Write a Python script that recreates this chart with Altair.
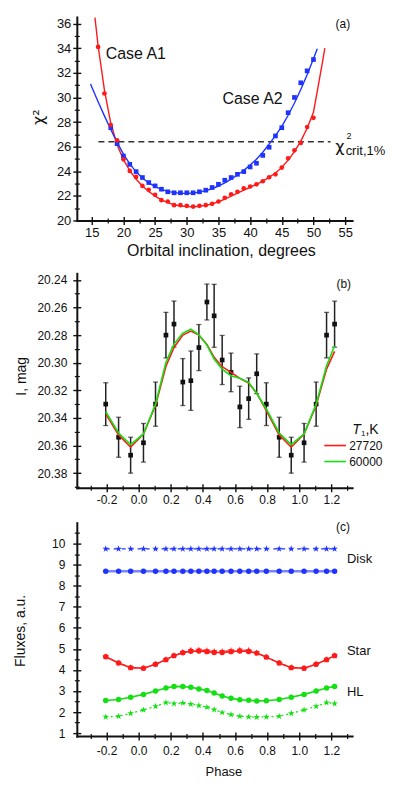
import altair as alt
import pandas as pd

FONT = "Liberation Sans"
RED = "#ff1a1a"
BLUE = "#1f33ff"
GREEN = "#12e012"
INK = "#111111"
STAR = ("M0,-1L0.2245,-0.309L0.951,-0.309L0.363,0.118L0.588,0.809L0,0.382"
        "L-0.588,0.809L-0.363,0.118L-0.951,-0.309L-0.2245,-0.309Z")

# ---------------- panel (a) ----------------
INCL_A1 = list(range(16, 51))
CHI_A1 = [34.11, 30.32, 27.76, 26.51, 24.97, 24.03, 23.54, 22.81, 22.49, 22.08,
          21.65, 21.54, 21.24, 21.24, 21.19, 21.13, 21.19, 21.24, 21.35, 21.54,
          21.84, 22.13, 22.33, 22.62, 22.76, 22.94, 23.19, 23.51, 23.75, 24.30,
          25.05, 25.70, 26.30, 27.60, 28.34]
INCL_A2 = list(range(18, 51))
CHI_A2 = [27.54, 26.24, 25.24, 24.56, 23.97, 23.49, 23.08, 22.81, 22.54, 22.33,
          22.25, 22.25, 22.25, 22.25, 22.33, 22.46, 22.68, 22.94, 23.27, 23.49,
          23.75, 23.97, 24.35, 24.65, 25.29, 25.95, 26.87, 27.54, 28.76, 30.00,
          31.19, 32.16, 33.08]
FIT_A1_X = [15.5, 16, 17, 18, 19, 20, 21, 22, 23, 24, 25, 26, 27, 28, 29, 30, 31,
            32, 33, 34, 35, 36, 37, 38, 39, 40, 41, 42, 43, 44, 45, 46, 47, 48,
            49, 50, 50.6, 51.4, 51.8]
FIT_A1_Y = [36.5, 34.2, 30.6, 27.9, 26.15, 24.95, 24.05, 23.35, 22.8, 22.35,
            21.98, 21.68, 21.45, 21.28, 21.18, 21.13, 21.12, 21.15, 21.23, 21.35,
            21.52, 21.74, 21.98, 22.22, 22.46, 22.7, 22.94, 23.2, 23.5, 23.86,
            24.3, 24.9, 25.6, 26.45, 27.5, 28.8, 30.5, 32.8, 34.0]
FIT_A2_X = [14.8, 16, 17, 18, 19, 20, 21, 22, 23, 24, 25, 26, 27, 28, 29, 30, 31,
            32, 33, 34, 35, 36, 37, 38, 39, 40, 41, 42, 43, 44, 45, 46, 47, 48,
            49, 50, 50.6]
FIT_A2_Y = [31.1, 29.65, 28.5, 27.4, 26.35, 25.4, 24.6, 23.95, 23.45, 23.05,
            22.75, 22.52, 22.36, 22.26, 22.21, 22.2, 22.23, 22.3, 22.42, 22.58,
            22.8, 23.06, 23.36, 23.7, 24.08, 24.5, 24.98, 25.55, 26.2, 26.9,
            27.65, 28.55, 29.55, 30.65, 31.85, 33.15, 33.95]
CHI_CRIT = 26.4
CRIT_X = [16.05, 52.7]

X_A_DOMAIN = [12.64, 56.1]
Y_A_DOMAIN = [20.0, 36.54]
X_A_TICKS = [15, 20, 25, 30, 35, 40, 45, 50, 55]
X_A_MINOR = [17.5, 22.5, 27.5, 32.5, 37.5, 42.5, 47.5, 52.5]
Y_A_TICKS = [20, 22, 24, 26, 28, 30, 32, 34, 36]
Y_A_MINOR = [21, 23, 25, 27, 29, 31, 33, 35]

A_TEXT_BIG = ["Case A1", "Case A2"]
A_TEXT_BIG_X = [17.2, 35.63]
A_TEXT_BIG_Y = [33.54, 29.89]

# ---------------- panel (b) ----------------
PHASE = [-0.205, -0.125, -0.05, 0.03, 0.105, 0.17, 0.22, 0.275, 0.325, 0.375,
         0.425, 0.47, 0.52, 0.575, 0.63, 0.685, 0.735, 0.795, 0.875, 0.95,
         1.03, 1.105, 1.17, 1.22]
MAG = [20.330, 20.354, 20.367, 20.358, 20.330, 20.280, 20.272, 20.314, 20.313,
       20.289, 20.256, 20.266, 20.298, 20.307, 20.332, 20.326, 20.308, 20.330,
       20.354, 20.367, 20.358, 20.330, 20.280, 20.272]
MAG_ERR = [0.0155, 0.0145, 0.013, 0.014, 0.016, 0.0165, 0.0167, 0.017, 0.0215,
           0.0167, 0.013, 0.0228, 0.0178, 0.014, 0.015, 0.015, 0.0144, 0.0155,
           0.0145, 0.013, 0.014, 0.016, 0.0165, 0.0167]
MODEL_27720 = [20.3371, 20.3523, 20.3612, 20.3516, 20.3310, 20.3025, 20.2889,
               20.2800, 20.2771, 20.2800, 20.2867, 20.2961, 20.3029, 20.3070,
               20.3113, 20.3147, 20.3221, 20.3347, 20.3523, 20.3612, 20.3516,
               20.3310, 20.3046, 20.2918]
MODEL_60000 = [20.3354, 20.3509, 20.3593, 20.3516, 20.3300, 20.2997, 20.2865,
               20.2785, 20.2757, 20.2798, 20.2872, 20.2973, 20.3046, 20.3094,
               20.3113, 20.3142, 20.3221, 20.3335, 20.3509, 20.3593, 20.3516,
               20.3300, 20.3022, 20.2877]
LEGEND_LABELS = ["27720", "60000"]
LEGEND_Y = [20.360, 20.3716]
LEGEND_X = [1.156, 1.2907]
LEGEND_TEXT_X = 1.311

X_P_DOMAIN = [-0.385, 1.329]
Y_B_DOMAIN = [20.2352, 20.3906]
X_P_TICKS = [-0.2, 0.0, 0.2, 0.4, 0.6, 0.8, 1.0, 1.2]
X_P_MINOR = [-0.3, -0.1, 0.1, 0.3, 0.5, 0.7, 0.9, 1.1, 1.3]
Y_B_TICKS = [20.24, 20.26, 20.28, 20.30, 20.32, 20.34, 20.36, 20.38]
Y_B_MINOR = [20.25, 20.27, 20.29, 20.31, 20.33, 20.35, 20.37, 20.39]

# ---------------- panel (c) ----------------
DISK_STARS = [9.75] * 24
DISK_DOTS = [8.69] * 24
STAR_DOTS = [4.63, 4.33, 4.11, 4.08, 4.27, 4.49, 4.68, 4.82, 4.89, 4.90, 4.87,
             4.83, 4.83, 4.87, 4.90, 4.88, 4.80, 4.61, 4.33, 4.11, 4.08, 4.27,
             4.49, 4.68]
STAR_STARS = [4.63, 4.33, 4.11, 4.08, 4.27, 4.49, 4.68, 4.84, 4.94, 4.95, 4.92,
              4.88, 4.88, 4.92, 4.95, 4.93, 4.82, 4.61, 4.33, 4.11, 4.08, 4.27,
              4.49, 4.68]
HL_DOTS = [2.55, 2.60, 2.70, 2.84, 3.00, 3.14, 3.22, 3.21, 3.18, 3.10, 3.02,
           2.91, 2.76, 2.66, 2.58, 2.56, 2.53, 2.54, 2.60, 2.70, 2.84, 3.00,
           3.14, 3.22]
HL_STARS = [1.77, 1.80, 1.94, 2.10, 2.27, 2.45, 2.40, 2.43, 2.38, 2.31, 2.23,
            2.12, 1.98, 1.88, 1.80, 1.77, 1.76, 1.77, 1.80, 1.94, 2.10, 2.27,
            2.45, 2.40]
Y_C_DOMAIN = [0.858, 10.995]
Y_C_TICKS = [1, 2, 3, 4, 5, 6, 7, 8, 9, 10]
Y_C_MINOR = [1.5, 2.5, 3.5, 4.5, 5.5, 6.5, 7.5, 8.5, 9.5, 10.5]
C_LABELS = ["Disk", "Star", "HL"]
C_LABEL_Y = [9.256, 4.884, 2.975]
C_LABEL_X = 1.297

W = 276
HA, HB, HC = 204, 215, 214

MINUS_FIX = "replace(format(datum.value, '{f}'), '\u2212', '-')"


def main_axis(orient, values, fs, pad, fmt, title_size=14, tx=None, ty=None,
              title_font=FONT):
    kw = dict(orient=orient, values=values, grid=False, tickSize=4, tickWidth=1.4,
              tickColor=INK, domainColor=INK, domainWidth=2, domainCap="square",
              labelFont=FONT, labelFontSize=fs, labelColor=INK, labelPadding=pad,
              labelOverlap=False, labelFlush=False,
              labelExpr=MINUS_FIX.format(f=fmt))
    if tx is not None:
        kw.update(titleFont=title_font, titleFontSize=title_size,
                  titleFontWeight="normal", titleColor=INK, titleX=tx, titleY=ty,
                  titleBaseline="middle", titleAlign="center")
    return alt.Axis(**kw)


def tick_axis(orient, values, size, off, width):
    return alt.Axis(orient=orient, values=values, grid=False, domain=False,
                    labels=False, tickSize=size, offset=off, tickWidth=width,
                    tickColor=INK)


def X(field, scale, axis=None, title=None):
    return alt.X(field, type="quantitative", scale=scale, axis=axis, title=title)


def Y(field, scale, axis=None, title=None):
    return alt.Y(field, type="quantitative", scale=scale, axis=axis, title=title)


def tick_layers(data, xf, yf, xs, ys, xmaj, xmin, ymaj, ymin):
    inner = alt.Chart(data).mark_point(opacity=0).encode(
        x=X(xf, xs, tick_axis("bottom", xmaj, 4, -4, 1.4)),
        y=Y(yf, ys, tick_axis("left", ymaj, 4, -4, 1.4)))
    minor = alt.Chart(data).mark_point(opacity=0).encode(
        x=X(xf, xs, tick_axis("bottom", xmin, 5, -2.5, 1.2)),
        y=Y(yf, ys, tick_axis("left", ymin, 5, -2.5, 1.2)))
    return [inner, minor]


def texts(df, xs, ys, size, align="left", style="normal", color=INK, font=FONT):
    return alt.Chart(df).mark_text(align=align, baseline="middle", font=font,
                                   fontSize=size, fontStyle=style, color=color).encode(
        x=X("x", xs), y=Y("y", ys), text="t:N")


# ======================= panel (a) =======================
xa = alt.Scale(domain=X_A_DOMAIN, nice=False, zero=False)
ya = alt.Scale(domain=Y_A_DOMAIN, nice=False, zero=False)

dA1 = pd.DataFrame({"x": INCL_A1, "y": CHI_A1})
dA2 = pd.DataFrame({"x": INCL_A2, "y": CHI_A2})
fA1 = pd.DataFrame({"x": FIT_A1_X, "y": FIT_A1_Y})
fA2 = pd.DataFrame({"x": FIT_A2_X, "y": FIT_A2_Y})
crit = pd.DataFrame({"x": CRIT_X, "y": [CHI_CRIT, CHI_CRIT]})

a_main = alt.Chart(dA1).mark_circle(size=22, color=RED, opacity=1).encode(
    x=X("x", xa, main_axis("bottom", X_A_TICKS, 13, 2, "d", 16, 144.5, 30),
        "Orbital inclination, degrees"),
    y=Y("y", ya, main_axis("left", Y_A_TICKS, 13, 2, "d", 16, -38.7, 100,
                           "DejaVu Sans"), "χ²"))
a_layers = [
    alt.Chart(crit).mark_line(color="#333333", strokeDash=[6, 4], strokeWidth=1.5)
    .encode(x=X("x", xa), y=Y("y", ya)),
    alt.Chart(fA1).mark_line(color=RED, strokeWidth=1.4).encode(x=X("x", xa), y=Y("y", ya)),
    alt.Chart(fA2).mark_line(color=BLUE, strokeWidth=1.4).encode(x=X("x", xa), y=Y("y", ya)),
    alt.Chart(dA2).mark_square(size=22, color=BLUE, opacity=1).encode(x=X("x", xa), y=Y("y", ya)),
    a_main,
    texts(pd.DataFrame({"x": A_TEXT_BIG_X, "y": A_TEXT_BIG_Y, "t": A_TEXT_BIG}), xa, ya, 16),
    texts(pd.DataFrame({"x": [54.64], "y": [36.0], "t": ["(a)"]}), xa, ya, 12, "center"),
    texts(pd.DataFrame({"x": [53.43], "y": [25.98], "t": ["χ"]}), xa, ya, 16,
          font="DejaVu Sans"),
    texts(pd.DataFrame({"x": [55.2], "y": [26.9], "t": ["2"]}), xa, ya, 9),
    texts(pd.DataFrame({"x": [55.08], "y": [25.66], "t": ["crit,1%"]}), xa, ya, 13),
] + tick_layers(dA1, "x", "y", xa, ya, X_A_TICKS, X_A_MINOR, Y_A_TICKS, Y_A_MINOR)

panel_a = alt.layer(*a_layers).resolve_axis(x="independent", y="independent").properties(
    width=W, height=HA)

# ======================= panel (b) =======================
xp = alt.Scale(domain=X_P_DOMAIN, nice=False, zero=False)
yb = alt.Scale(domain=Y_B_DOMAIN, nice=False, zero=False, reverse=True)

dB = pd.DataFrame({"x": PHASE, "y": MAG,
                   "lo": [m - e for m, e in zip(MAG, MAG_ERR)],
                   "hi": [m + e for m, e in zip(MAG, MAG_ERR)]})
mB = pd.DataFrame({"x": PHASE * 2, "y": MODEL_27720 + MODEL_60000,
                   "s": [LEGEND_LABELS[0]] * len(PHASE) + [LEGEND_LABELS[1]] * len(PHASE)})
legB = pd.DataFrame({"x": [LEGEND_X[0]] * 2, "x2": [LEGEND_X[1]] * 2, "y": LEGEND_Y,
                     "s": LEGEND_LABELS, "t": LEGEND_LABELS,
                     "tx": [LEGEND_TEXT_X] * 2})
colB = alt.Color("s:N", scale=alt.Scale(domain=LEGEND_LABELS, range=[RED, GREEN]),
                 legend=None)

b_main = alt.Chart(dB).mark_square(size=22, color=INK, opacity=1).encode(
    x=X("x", xp, main_axis("bottom", X_P_TICKS, 12, 3, ".1f"), None),
    y=Y("y", yb, main_axis("left", Y_B_TICKS, 12, 6, ".2f", 14, -55.3, 102.7), "I, mag"))
b_layers = [
    alt.Chart(dB).mark_rule(color="#222222", strokeWidth=1.5).encode(
        x=X("x", xp), y=Y("lo", yb), y2="hi"),
    alt.Chart(dB).mark_tick(orient="horizontal", size=5, thickness=1.3, color="#222222")
    .encode(x=X("x", xp), y=Y("lo", yb)),
    alt.Chart(dB).mark_tick(orient="horizontal", size=5, thickness=1.3, color="#222222")
    .encode(x=X("x", xp), y=Y("hi", yb)),
    b_main,
    alt.Chart(mB).mark_line(strokeWidth=1.6).encode(x=X("x", xp), y=Y("y", yb),
                                                    color=colB, detail="s:N"),
    alt.Chart(legB).mark_rule(strokeWidth=1.6).encode(x=X("x", xp), x2="x2",
                                                      y=Y("y", yb), color=colB),
    alt.Chart(legB).mark_text(align="left", baseline="middle", font=FONT, fontSize=12,
                              color=INK).encode(x=X("tx", xp), y=Y("y", yb), text="t:N"),
    texts(pd.DataFrame({"x": [1.277], "y": [20.2431], "t": ["(b)"]}), xp, yb, 12, "center"),
    texts(pd.DataFrame({"x": [1.330], "y": [20.3485], "t": ["T"]}), xp, yb, 14, style="italic"),
    texts(pd.DataFrame({"x": [1.384], "y": [20.3515], "t": ["1"]}), xp, yb, 8),
    texts(pd.DataFrame({"x": [1.412], "y": [20.3485], "t": [",K"]}), xp, yb, 14),
] + tick_layers(dB, "x", "y", xp, yb, X_P_TICKS, X_P_MINOR, Y_B_TICKS, Y_B_MINOR)

panel_b = alt.layer(*b_layers).resolve_axis(x="independent", y="independent").properties(
    width=W, height=HB)

# ======================= panel (c) =======================
yc = alt.Scale(domain=Y_C_DOMAIN, nice=False, zero=False)


def series(vals, color, marker, line_kw, msize):
    d = pd.DataFrame({"x": PHASE, "y": vals})
    line = alt.Chart(d).mark_line(color=color, **line_kw).encode(x=X("x", xp), y=Y("y", yc))
    if marker == "circle":
        pts = alt.Chart(d).mark_circle(size=msize, color=color, opacity=1)
    else:
        pts = alt.Chart(d).mark_point(shape=STAR, filled=True, size=msize, color=color,
                                      opacity=1)
    return [line, pts.encode(x=X("x", xp), y=Y("y", yc))]


dC = pd.DataFrame({"x": PHASE, "y": DISK_DOTS})
c_main = alt.Chart(dC).mark_point(opacity=0).encode(
    x=X("x", xp, main_axis("bottom", X_P_TICKS, 12, 5, ".1f", 13, 147, 35), "Phase"),
    y=Y("y", yc, main_axis("left", Y_C_TICKS, 12, 8, "d", 14, -56.3, 108), "Fluxes, a.u."))
c_layers = [c_main]
c_layers += series(DISK_STARS, BLUE, "star", dict(strokeDash=[4, 4], strokeWidth=1.1), 50)
c_layers += series(DISK_DOTS, BLUE, "circle", dict(strokeWidth=2.4, opacity=0.6), 30)
c_layers += series(STAR_STARS, RED, "star", dict(strokeDash=[3, 3], strokeWidth=1.1), 50)
c_layers += series(STAR_DOTS, RED, "circle", dict(strokeWidth=1.6), 30)
c_layers += series(HL_DOTS, GREEN, "circle", dict(strokeWidth=1.6), 30)
c_layers += series(HL_STARS, GREEN, "star", dict(strokeDash=[2, 3], strokeWidth=1.2), 50)
c_layers += [
    texts(pd.DataFrame({"x": [C_LABEL_X] * 3, "y": C_LABEL_Y, "t": C_LABELS}), xp, yc, 13),
    texts(pd.DataFrame({"x": [1.272], "y": [10.805], "t": ["(c)"]}), xp, yc, 12, "center"),
]
c_layers += tick_layers(dC, "x", "y", xp, yc, X_P_TICKS, X_P_MINOR, Y_C_TICKS, Y_C_MINOR)

panel_c = alt.layer(*c_layers).resolve_axis(x="independent", y="independent").properties(
    width=W, height=HC)

chart = alt.vconcat(panel_a, panel_b, panel_c, spacing=15).properties(
    padding={"left": 5, "top": 5, "right": 5, "bottom": 5}
).configure_view(stroke=None)

chart.save("out.html", embed_options={"renderer": "svg", "actions": False})
